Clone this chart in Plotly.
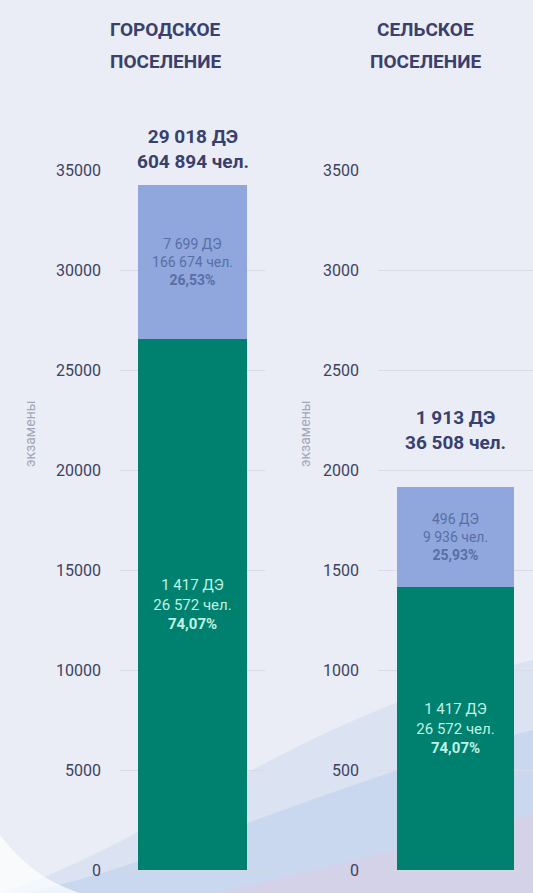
import plotly.graph_objects as go

# ---- data ----
settlements = ["ГОРОДСКОЕ<br>ПОСЕЛЕНИЕ", "СЕЛЬСКОЕ<br>ПОСЕЛЕНИЕ"]
green_values = [26572, 1417]
blue_values = [7699, 496]
green_labels = ["1 417 ДЭ<br>26 572 чел.<br><b>74,07%</b>", "1 417 ДЭ<br>26 572 чел.<br><b>74,07%</b>"]
blue_labels = ["7 699 ДЭ<br>166 674 чел.<br><b>26,53%</b>", "496 ДЭ<br>9 936 чел.<br><b>25,93%</b>"]
total_labels = ["29 018 ДЭ<br>604 894 чел.", "1 913 ДЭ<br>36 508 чел."]
y_ranges = [[0, 35000], [0, 3500]]
y_dticks = [5000, 500]
y_title = "экзамены"

# ---- style ----
FONT = "Roboto, Noto Sans, sans-serif"
NAVY = "#39406e"
GREEN = "#00806f"
BLUE = "#8fa7dc"
total_yshift = [10, 31]
title_x = [165 / 533, 425 / 533]
ytitle_x = [30 / 533, 305 / 533]

fig = go.Figure()
xaxes = ["x", "x2"]
yaxes = ["y", "y2"]
for i in range(2):
    fig.add_trace(go.Bar(
        x=[settlements[i]], y=[green_values[i]], xaxis=xaxes[i], yaxis=yaxes[i],
        marker=dict(color=GREEN, line=dict(width=0)),
        text=[green_labels[i]], textposition="inside", insidetextanchor="middle",
        textfont=dict(family=FONT, size=15, color="#bff2e2"),
        width=0.75, showlegend=False, hoverinfo="skip"))
    fig.add_trace(go.Bar(
        x=[settlements[i]], y=[blue_values[i]], xaxis=xaxes[i], yaxis=yaxes[i],
        marker=dict(color=BLUE, line=dict(width=0)),
        text=[blue_labels[i]], textposition="inside", insidetextanchor="middle",
        textfont=dict(family=FONT, size=14, color="#5a6ea6"),
        width=0.75, showlegend=False, hoverinfo="skip"))
    total = green_values[i] + blue_values[i]
    fig.add_annotation(x=settlements[i], y=total, xref=xaxes[i], yref=yaxes[i],
                       text="<b>" + total_labels[i] + "</b>", showarrow=False,
                       xanchor="center", yanchor="bottom", yshift=total_yshift[i],
                       font=dict(family=FONT, size=19, color=NAVY))

# titles (one annotation per line for wider line spacing)
for i in range(2):
    lines = settlements[i].split("<br>")
    for j, line in enumerate(lines):
        fig.add_annotation(x=title_x[i], y=1.0, xref="paper", yref="paper",
                           yshift=141 - 32 * j, text="<b>" + line + "</b>", showarrow=False,
                           xanchor="center", yanchor="middle",
                           font=dict(family=FONT, size=19, color=NAVY))

# y-axis titles
for i in range(2):
    fig.add_annotation(x=ytitle_x[i], y=(870 - 434) / 700, xref="paper", yref="paper",
                       text=y_title, textangle=-90, showarrow=False,
                       xanchor="center", yanchor="middle",
                       font=dict(family=FONT, size=14, color="#a3a7ba"))

axis_common = dict(showgrid=True, gridcolor="#d9dce8", gridwidth=1,
                   zeroline=True, zerolinecolor="#d3d7e4", zerolinewidth=1,
                   tickfont=dict(family=FONT, size=16, color="#3d4262"),
                   ticks="", ticklabelstandoff=18, tickformat="d")

fig.update_layout(
    width=533, height=893,
    margin=dict(l=0, r=0, t=170, b=23),
    paper_bgcolor="#eaedf5", plot_bgcolor="rgba(0,0,0,0)",
    barmode="stack", bargap=0,
    xaxis=dict(domain=[120 / 533, 265 / 533], showticklabels=False, showgrid=False,
               zeroline=False, range=[-0.5, 0.5]),
    xaxis2=dict(domain=[378 / 533, 1.0], showticklabels=False, showgrid=False,
                zeroline=False, range=[-0.5, 0.5]),
    yaxis=dict(range=y_ranges[0], dtick=y_dticks[0], anchor="x", **axis_common),
    yaxis2=dict(range=y_ranges[1], dtick=y_dticks[1], anchor="x2", **axis_common),
)

# decorative background swooshes
fig.add_shape(type="path", xref="paper", yref="paper", layer="below",
              path="M 0,-0.033 C 0.3,0.04 0.55,0.22 1.0,0.3 L 1.0,-0.033 Z",
              fillcolor="rgba(205,218,238,0.55)", line=dict(width=0))
fig.add_shape(type="path", xref="paper", yref="paper", layer="below",
              path="M 0.05,-0.033 C 0.35,0.02 0.6,0.12 1.0,0.2 L 1.0,-0.033 Z",
              fillcolor="rgba(180,202,232,0.45)", line=dict(width=0))
fig.add_shape(type="path", xref="paper", yref="paper", layer="below",
              path="M 0.4,-0.033 C 0.6,0.0 0.8,0.04 1.0,0.08 L 1.0,-0.033 Z",
              fillcolor="rgba(225,205,225,0.45)", line=dict(width=0))
fig.add_shape(type="path", xref="paper", yref="paper", layer="below",
              path="M 0,0.05 C 0.05,0.0 0.1,-0.02 0.15,-0.033 L 0,-0.033 Z",
              fillcolor="rgba(255,255,255,0.7)", line=dict(width=0))

fig.write_html("out.html", config={"displayModeBar": False},
               post_script="document.body.style.margin='0';")
